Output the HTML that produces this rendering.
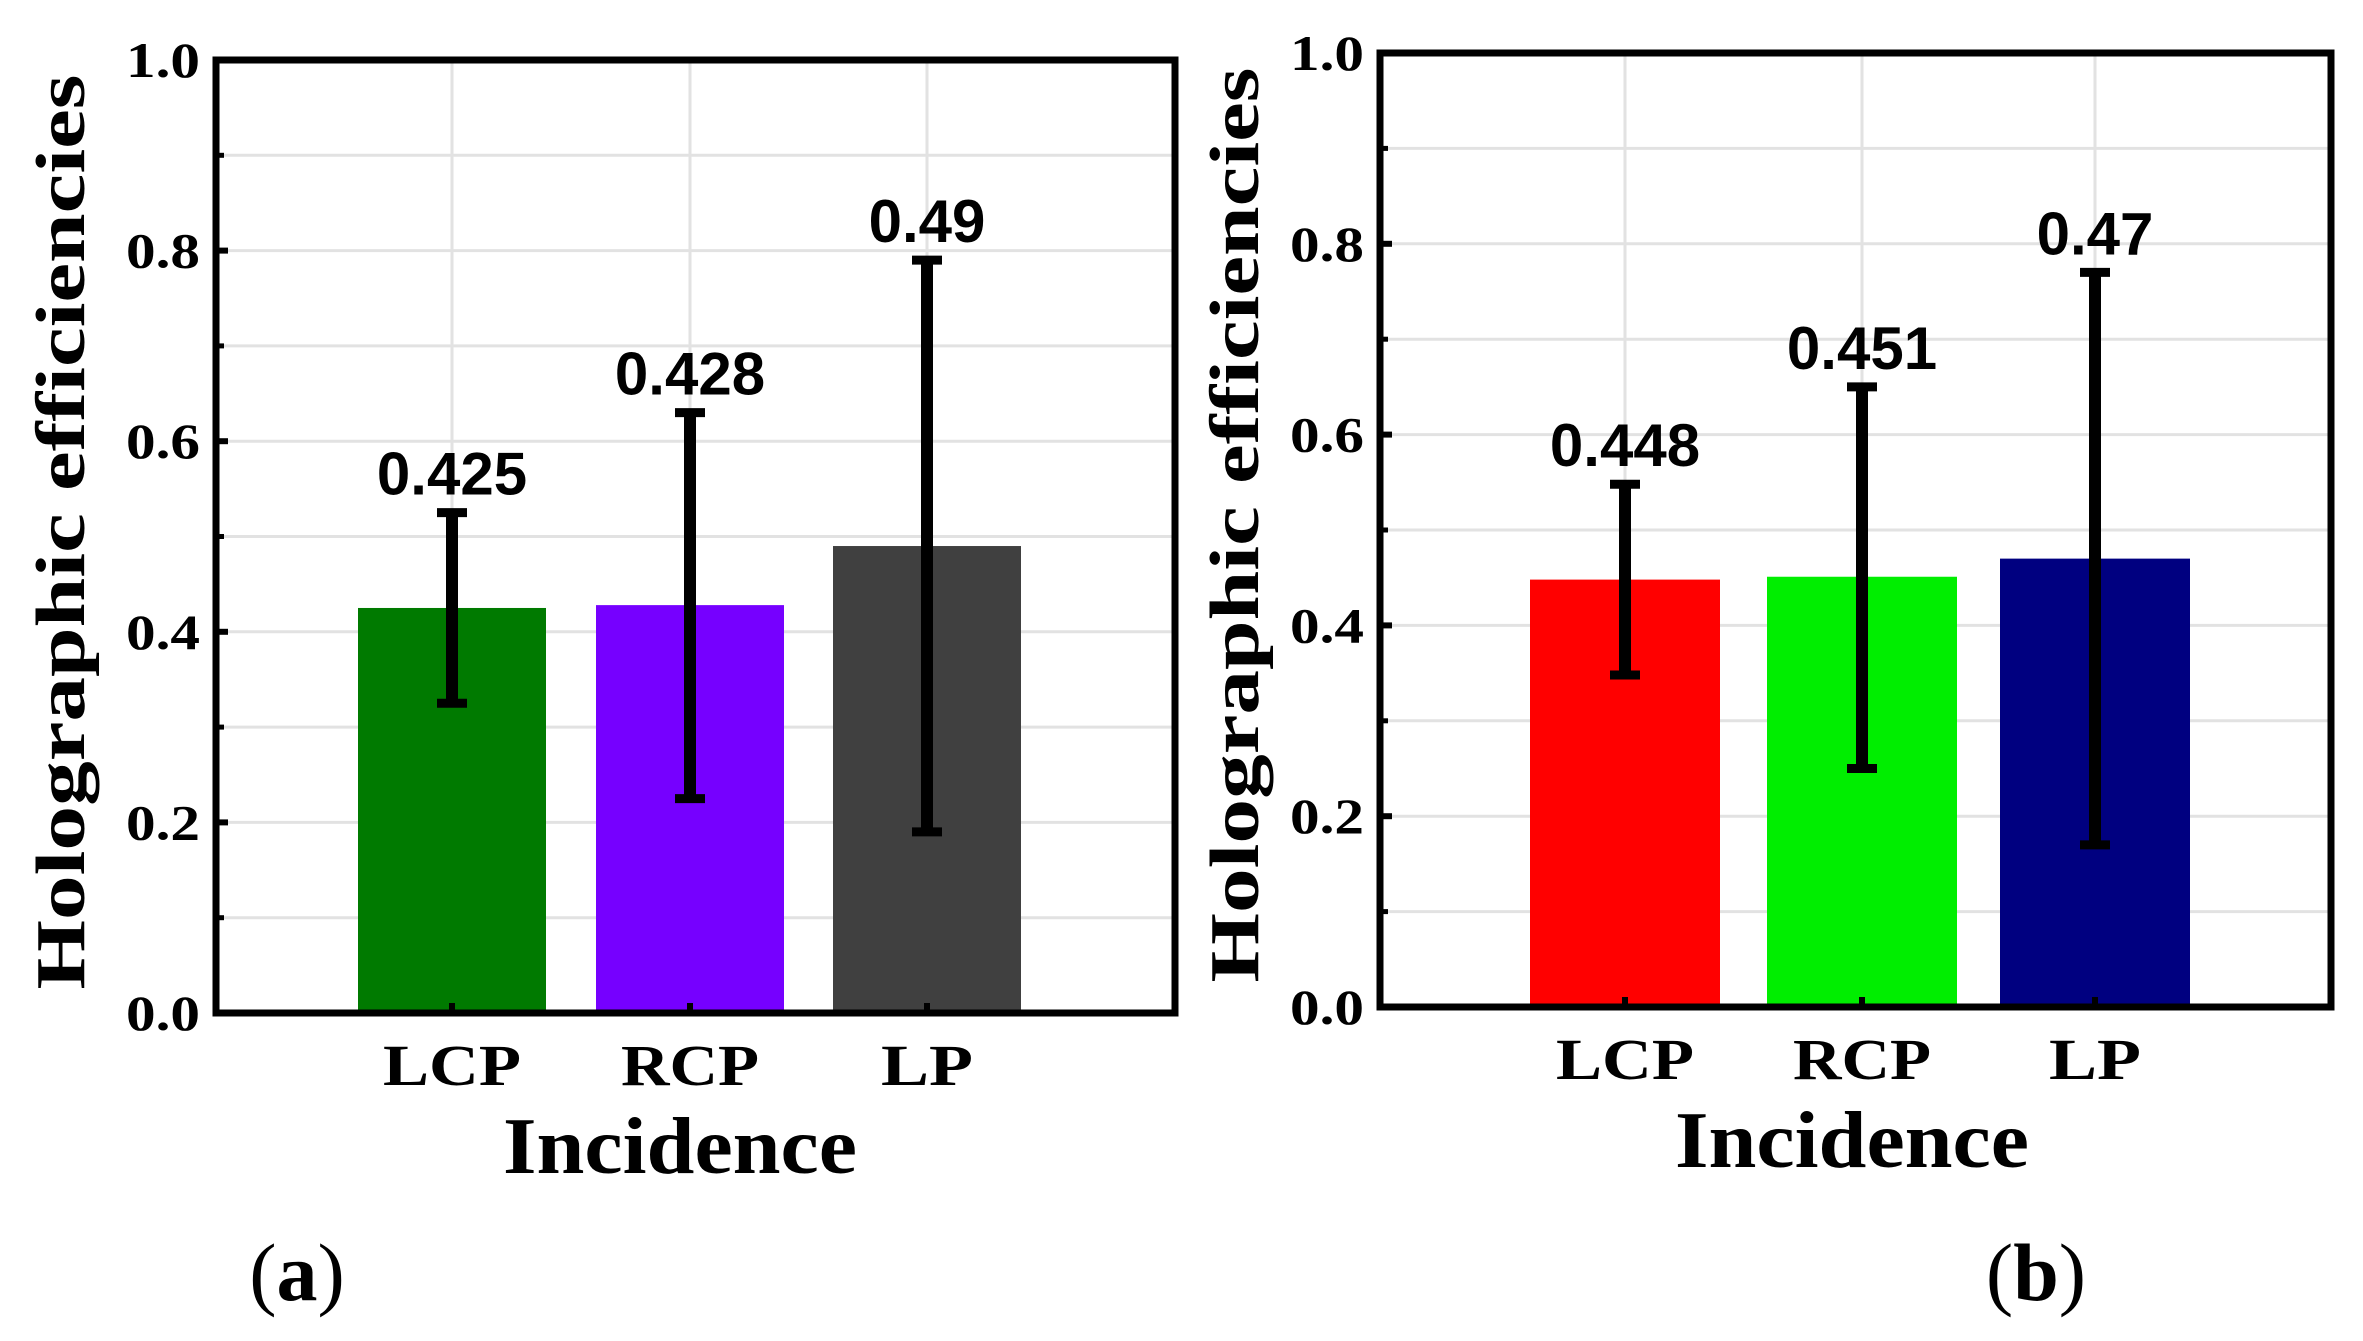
<!DOCTYPE html>
<html><head><meta charset="utf-8"><style>
html,body{margin:0;padding:0;background:#fff;}
svg{display:block;}
</style></head><body>
<svg id="fig" width="2363" height="1341" viewBox="0 0 2363 1341" xmlns="http://www.w3.org/2000/svg"></svg>
<script>
const categories = ["LCP", "RCP", "LP"];
const valuesA = [0.425, 0.428, 0.49];
const errLowA = [0.325, 0.225, 0.19];
const errHighA = [0.525, 0.63, 0.79];
const labelsA = ["0.425", "0.428", "0.49"];
const valuesB = [0.448, 0.451, 0.47];
const errLowB = [0.348, 0.25, 0.17];
const errHighB = [0.548, 0.65, 0.77];
const labelsB = ["0.448", "0.451", "0.47"];
const yTicks = [0, 0.2, 0.4, 0.6, 0.8, 1.0];
const yTickLabels = ["0.0", "0.2", "0.4", "0.6", "0.8", "1.0"];
const yMinor = [0.1, 0.3, 0.5, 0.7, 0.9];

const NS = "http://www.w3.org/2000/svg";
const svg = document.getElementById('fig');
function mk(tag, attrs, parent, text) {
  const e = document.createElementNS(NS, tag);
  for (const k in attrs) e.setAttribute(k, attrs[k]);
  if (text !== undefined) e.textContent = text;
  (parent || svg).appendChild(e);
  return e;
}

function panel(cfg) {
  const g = mk('g', {});
  
  
  const yS = v => cfg.bottom - v * (cfg.bottom - cfg.top);
  const xS = i => cfg.centers[i];
  [...yTicks, ...yMinor].forEach(v => {
    if (v <= 0 || v >= 1) return;
    const l = mk('line', {x1: cfg.left, x2: cfg.right, y1: yS(v), y2: yS(v), stroke: '#e2e2e2', 'stroke-width': 3}, g);
    
    
  });
  categories.forEach((c, i) => {
    const l = mk('line', {x1: xS(i), x2: xS(i), y1: cfg.top, y2: cfg.bottom, stroke: '#e2e2e2', 'stroke-width': 3}, g);
    
    
  });
  categories.forEach((c, i) => {
    const v = cfg.values[i];
    const r = mk('rect', {x: xS(i) - cfg.bw / 2, y: yS(v), width: cfg.bw, height: yS(0) - yS(v), fill: cfg.colors[i]}, g);
    
    
  });
  categories.forEach((c, i) => {
    const eg = mk('g', {stroke: '#000', 'stroke-width': 12}, g);
    
    
    const x = xS(i), y1 = yS(cfg.lo[i]), y2 = yS(cfg.hi[i]);
    mk('line', {x1: x, x2: x, y1: y1, y2: y2}, eg);
    mk('line', {x1: x - 15, x2: x + 15, y1: y1, y2: y1, 'stroke-width': 9}, eg);
    mk('line', {x1: x - 15, x2: x + 15, y1: y2, y2: y2, 'stroke-width': 9}, eg);
    const t = mk('text', {x: x, y: y2 - 18, 'text-anchor': 'middle', 'font-family': 'Liberation Sans, sans-serif', 'font-weight': 'bold', 'font-size': 60}, g, cfg.labels[i]);
    
    
  });
  const f = mk('rect', {x: cfg.left, y: cfg.top, width: cfg.right - cfg.left, height: cfg.bottom - cfg.top, fill: 'none', stroke: '#000', 'stroke-width': 7}, g);
  
  
  yTicks.forEach((v, i) => {
    mk('line', {x1: cfg.left, x2: cfg.left + 12, y1: yS(v), y2: yS(v), stroke: '#000', 'stroke-width': 6}, g);
    const t = mk('text', {x: cfg.left - 16, y: yS(v) + 17, 'text-anchor': 'end', 'font-family': 'Liberation Serif, serif', 'font-weight': 'bold', 'font-size': 50, textLength: 74, lengthAdjust: 'spacingAndGlyphs'}, g, yTickLabels[i]);
    
    
  });
  yMinor.forEach(v => {
    mk('line', {x1: cfg.left, x2: cfg.left + 8, y1: yS(v), y2: yS(v), stroke: '#000', 'stroke-width': 5}, g);
  });
  categories.forEach((c, i) => {
    mk('line', {x1: xS(i), x2: xS(i), y1: cfg.bottom, y2: cfg.bottom - 10, stroke: '#000', 'stroke-width': 6}, g);
    const t = mk('text', {x: xS(i), y: cfg.bottom + 72, 'text-anchor': 'middle', 'font-family': 'Liberation Serif, serif', 'font-weight': 'bold', 'font-size': 58, textLength: c.length * 46, lengthAdjust: 'spacingAndGlyphs'}, g, c);
    
    
  });
  const xt = mk('text', {x: cfg.xTitleX, y: cfg.bottom + 160, 'text-anchor': 'middle', 'font-family': 'Liberation Serif, serif', 'font-weight': 'bold', 'font-size': 80, textLength: 354, lengthAdjust: 'spacingAndGlyphs'}, g, 'Incidence');
  
  
  const yt = mk('text', {x: 0, y: 0, 'text-anchor': 'middle', 'font-family': 'Liberation Serif, serif', 'font-weight': 'bold', 'font-size': 70, textLength: 915, lengthAdjust: 'spacingAndGlyphs', transform: 'translate(' + cfg.yTitleX + ',' + cfg.yTitleY + ') rotate(-90)'}, g, 'Holographic efficiencies');
  
  
  const pl = mk('text', {x: cfg.panelX, y: 1300, 'text-anchor': 'middle', 'font-family': 'Liberation Serif, serif', 'font-size': 82}, g);
  
  
  mk('tspan', {}, pl, '(');
  mk('tspan', {'font-weight': 'bold'}, pl, cfg.panelLetter);
  mk('tspan', {}, pl, ')');
}

panel({name: 'panel-a', left: 216, right: 1175, top: 60, bottom: 1013, centers: [452, 690, 927], bw: 188,
  values: valuesA, lo: errLowA, hi: errHighA, labels: labelsA,
  colors: ['#007a00', '#7600ff', '#404040'], xTitleX: 680, yTitleX: 84, yTitleY: 532, panelX: 297, panelLetter: 'a'});
panel({name: 'panel-b', left: 1380, right: 2331, top: 53, bottom: 1007, centers: [1625, 1862, 2095], bw: 190,
  values: valuesB, lo: errLowB, hi: errHighB, labels: labelsB,
  colors: ['#ff0000', '#00ee00', '#000080'], xTitleX: 1852, yTitleX: 1258, yTitleY: 525, panelX: 2036, panelLetter: 'b'});
</script>
</body></html>
